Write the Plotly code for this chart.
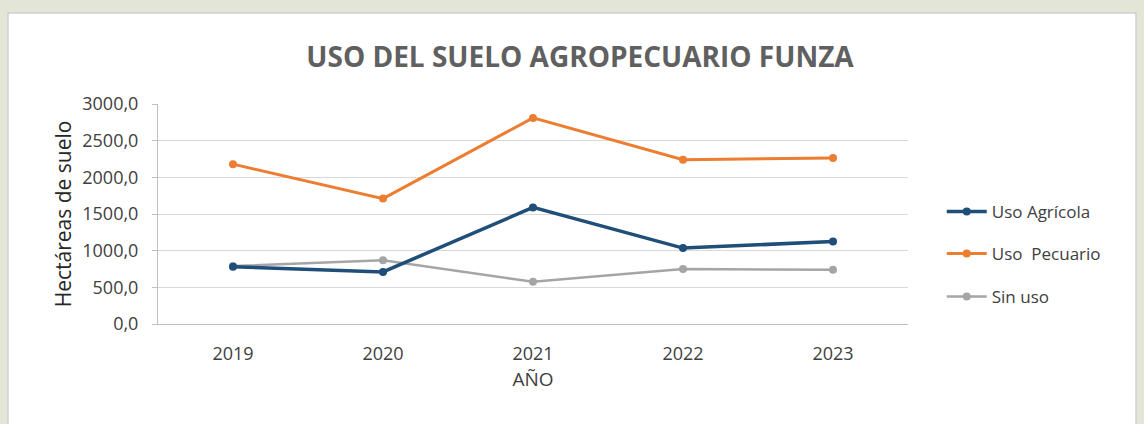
import plotly.graph_objects as go

years = ["2019", "2020", "2021", "2022", "2023"]
uso_agricola = [780, 710, 1590, 1035, 1125]
uso_pecuario = [2180, 1710, 2810, 2240, 2265]
sin_uso = [790, 870, 575, 750, 740]

names = ["Uso Agrícola", "Uso  Pecuario", "Sin uso"]
colors = ["#1f4e79", "#ed7d31", "#a5a5a5"]
widths = [3.5, 3, 2.5]
series = [uso_agricola, uso_pecuario, sin_uso]

fig = go.Figure()
legend_keys = ["legend", "legend2", "legend3"]
order = [2, 1, 0]  # draw sin uso first
for i in order:
    fig.add_trace(go.Scatter(
        x=years, y=series[i], name=names[i], mode="lines+markers",
        line=dict(color=colors[i], width=widths[i]),
        marker=dict(color=colors[i], size=8, symbol="circle"),
        legend=legend_keys[i], showlegend=True,
    ))

font_fam = "Open Sans, Liberation Sans, sans-serif"
leg_common = dict(x=1.045, xanchor="left", yanchor="middle", bgcolor="rgba(0,0,0,0)",
                  font=dict(size=17, color="#404040", family=font_fam), itemwidth=40)

fig.update_layout(
    width=1144, height=424,
    margin=dict(l=158, r=236, t=104, b=100),
    paper_bgcolor="#e3e6d6",
    plot_bgcolor="white",
    showlegend=True,
    separators=",.",
    font=dict(family=font_fam, color="#404040"),
    title=dict(text="<b>USO DEL SUELO AGROPECUARIO FUNZA</b>", x=580/1144, xanchor="center",
               y=1 - 57/424, yanchor="middle",
               font=dict(size=28, color="#606060", family=font_fam)),
    xaxis=dict(type="category", range=[-0.5, 4.5], showgrid=False,
               showline=True, linecolor="#bfbfbf", linewidth=1,
               ticks="", ticklabelstandoff=13,
               tickfont=dict(size=18, color="#404040"),
               title=dict(text="AÑO", font=dict(size=19, color="#404040"), standoff=9)),
    yaxis=dict(range=[0, 3000], dtick=500, tickformat=".1f",
               showgrid=True, gridcolor="#d9d9d9", gridwidth=1,
               showline=True, linecolor="#bfbfbf", linewidth=1,
               ticks="outside", ticklen=5, tickcolor="#bfbfbf",
               ticklabelstandoff=10,
               tickfont=dict(size=18, color="#404040"), zeroline=False,
               title=dict(text="Hectáreas de suelo", font=dict(size=21, color="#262626"), standoff=4)),
    legend=dict(y=(324 - 212) / 220, **leg_common),
    legend2=dict(y=(324 - 254) / 220, **leg_common),
    legend3=dict(y=(324 - 297) / 220, **leg_common),
    shapes=[dict(type="rect", xref="paper", yref="paper",
                 x0=-(158 - 8) / 750, x1=(1136 - 158) / 750,
                 y0=-(424 - 324 + 10) / 220, y1=(324 - 13) / 220,
                 fillcolor="white", line=dict(color="#cfcfcf", width=1.5), layer="below")],
)

fig.write_html("out.html", config={"displayModeBar": False},
               post_script="document.body.style.margin='0';")
